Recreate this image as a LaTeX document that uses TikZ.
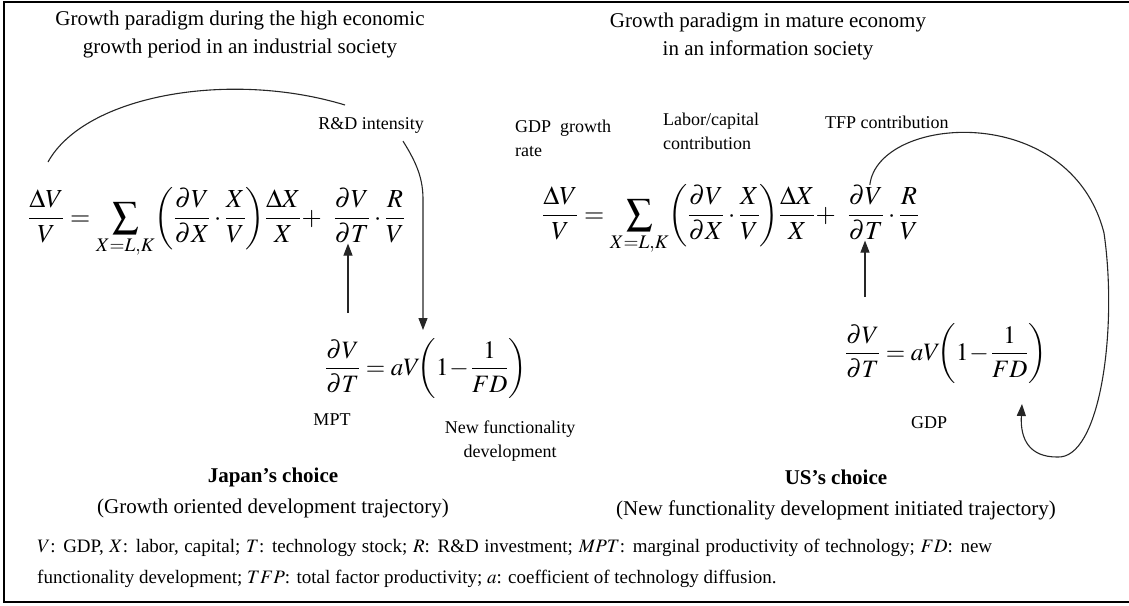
\documentclass[tikz,border=0pt]{standalone}
\usepackage{mathptmx}
\usepackage{fontspec}
\setmainfont{Liberation Serif}
\usetikzlibrary{arrows.meta,positioning}

\begin{document}
\begin{tikzpicture}[x=1pt, y=-1pt,
    title/.style={align=center, inner sep=0pt, font=\fontsize{21}{28}\selectfont},
    label/.style={align=left, inner sep=0pt, font=\fontsize{18}{24}\selectfont},
    eqpart/.style={inner sep=0pt, font=\fontsize{26}{30}\selectfont},
    loweq/.style={inner sep=0pt, font=\fontsize{25}{29}\selectfont},
    choice/.style={align=center, inner sep=0pt, font=\fontsize{21}{31}\selectfont},
    notetext/.style={align=justify, inner sep=0pt, text width=955pt,
      font=\fontsize{19}{31}\selectfont},
    curve/.style={line width=1.1pt, draw=black!85},
    arrow/.style={curve, -{Triangle[length=12pt, width=9pt]}}
  ]
  \useasboundingbox (0,0) rectangle (1129,605);
  \draw[line width=2pt] (1129,2) -- (4,2) -- (4,602) -- (1129,602);

  % titles
  \node[title] (titleJapan) at (240,34)
    {Growth paradigm during the high economic\\growth period in an industrial society};
  \node[title] (titleUS) at (768,36)
    {Growth paradigm in mature economy\\in an information society};

  % Japan side
  \node[eqpart, anchor=base west] (eqJapan) at (28,225)
    {$\displaystyle \frac{\Delta V}{V} = \sum_{X=L,K}\!\left(\frac{\partial V}{\partial X}\cdot\frac{X}{V}\right)\!\frac{\Delta X}{X} + \;\;$};
  \node[eqpart, anchor=base west] (tJapan) at (eqJapan.base east)
    {$\displaystyle \frac{\partial V}{\partial T}$};
  \node[eqpart, anchor=base west] (rJapan) at (tJapan.base east)
    {$\displaystyle {}\cdot\frac{R}{V}$};
  \node[loweq, anchor=base west] (lowJapan) at (325,375)
    {$\displaystyle \frac{\partial V}{\partial T} = aV\mkern-4mu\left(1\mkern-2mu-\mkern-1mu\frac{1}{FD}\right)$};

  \node[label] (rdLabel) at (371,125) {R\&D intensity};
  \node[label] (mptLabel) at (332,420) {MPT};
  \node[label, align=center] (nfdLabel) at (510,441) {New functionality\\development};
  \node[choice] (japanChoice) at (273,493)
    {\textbf{Japan’s choice}\\(Growth oriented development trajectory)};

  \coordinate (arcStart) at (48,162);
  \coordinate (arcEnd) at (345,105);
  \draw[curve] (arcStart) .. controls (85,95) and (230,70) .. (arcEnd);
  \coordinate (rdTip) at (423,330);
  \draw[arrow] ([xshift=32pt, yshift=-8pt]rdLabel.south)
    .. controls (418,165) and (423,180) .. (423,200) -- (rdTip);
  \coordinate (mptFoot) at (348,313);
  \draw[arrow] (mptFoot) -- (mptFoot |- tJapan.south);

  % US side
  \node[eqpart, anchor=base west] (eqUS) at (542,222)
    {$\displaystyle \frac{\Delta V}{V} = \sum_{X=L,K}\!\left(\frac{\partial V}{\partial X}\cdot\frac{X}{V}\right)\!\frac{\Delta X}{X} + \;\;$};
  \node[eqpart, anchor=base west] (tUS) at (eqUS.base east)
    {$\displaystyle \frac{\partial V}{\partial T}$};
  \node[eqpart, anchor=base west] (rUS) at (tUS.base east)
    {$\displaystyle {}\cdot\frac{R}{V}$};
  \node[loweq, anchor=base west] (lowUS) at (845,360)
    {$\displaystyle \frac{\partial V}{\partial T} = aV\mkern-4mu\left(1\mkern-2mu-\mkern-1mu\frac{1}{FD}\right)$};

  \node[label, anchor=west] (gdpLabel) at (515,138) {GDP\ \ growth\\rate};
  \node[label, anchor=west] (lcLabel) at (663,131) {Labor/capital\\contribution};
  \node[label, anchor=west] (tfpLabel) at (825,122) {TFP contribution};
  \node[label] (gdpLow) at (929,423) {GDP};
  \node[choice] (usChoice) at (836,495)
    {\textbf{US’s choice}\\(New functionality development initiated trajectory)};

  \coordinate (loopTip) at (1022,404);
  \draw[arrow] ([xshift=4pt]tUS.north)
    .. controls (878,115) and (1070,100) .. (1104,233)
    .. controls (1118,330) and (1100,460) .. (1057,457)
    .. controls (1030,457) and (1020,440) .. (loopTip);
  \coordinate (tfpFoot) at (865,297);
  \draw[arrow] (tfpFoot) -- (tfpFoot |- tUS.south);

  % legend
  \node[notetext, anchor=west] (legend) at (37,563)
    {$V$: GDP, $X$: labor, capital; $T$: technology stock; $R$: R\&D investment; $MPT$: marginal productivity of technology; $FD$: new\linebreak
     functionality development; $TFP$: total factor productivity; $a$: coefficient of technology diffusion.};
\end{tikzpicture}
\end{document}
